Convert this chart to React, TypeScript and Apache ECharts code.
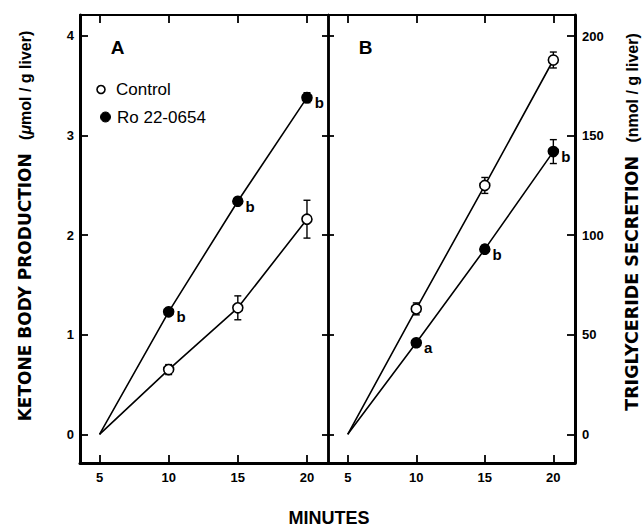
import React, { useEffect, useRef } from "react";
import * as echarts from "echarts";

// ---- data ----
const minutes = [5, 10, 15, 20];
const xTickValues = [5, 10, 15, 20];
const ketoneTicks = [0, 1, 2, 3, 4];
const tgTicks = [0, 50, 100, 150, 200];

const ketoneControl = [0, 0.65, 1.27, 2.16];
const ketoneControlErr = [0, 0.05, 0.12, 0.19];
const ketoneRo = [0, 1.23, 2.34, 3.38];
const ketoneRoErr = [0, 0.02, 0.02, 0.05];
const ketoneRoSig = ["", "b", "b", "b"];

const tgControl = [0, 63, 125, 188];
const tgControlErr = [0, 3, 4, 4];
const tgRo = [0, 46, 93, 142];
const tgRoErr = [0, 2, 2, 6];
const tgRoSig = ["", "a", "b", "b"];

const FONT = "'Liberation Sans', Arial, Helvetica, sans-serif";

function lineSeries(
  name: string,
  values: number[],
  filled: boolean,
  gi: number,
  sig?: string[]
) {
  return {
    name,
    type: "line",
    xAxisIndex: gi * 2,
    yAxisIndex: gi * 2,
    z: 3,
    data: minutes.map((m, i) => ({
      value: [m, values[i]],
      symbol: i === 0 ? "none" : "circle",
    })),
    symbolSize: 10,
    lineStyle: { color: "#000", width: 1.6 },
    itemStyle: {
      color: filled ? "#000" : "#fff",
      borderColor: "#000",
      borderWidth: 1.6,
    },
    label: sig
      ? {
          show: true,
          position: "right",
          distance: 2,
          offset: [0, 5],
          formatter: (p: any) => sig[p.dataIndex],
          fontFamily: FONT,
          fontWeight: "bold",
          fontSize: 15,
          color: "#000",
        }
      : { show: false },
  };
}

function errSeries(values: number[], errs: number[], gi: number) {
  return {
    type: "custom",
    xAxisIndex: gi * 2,
    yAxisIndex: gi * 2,
    z: 1,
    encode: { x: 0, y: 1 },
    data: minutes.map((m, i) => [m, values[i], errs[i]]),
    renderItem: (params: any, api: any) => {
      const x = api.value(0);
      const y = api.value(1);
      const e = api.value(2);
      if (!e) return null;
      const top = api.coord([x, y + e]);
      const bot = api.coord([x, y - e]);
      const hw = 3.5;
      const st = { stroke: "#000", lineWidth: 1.4 };
      return {
        type: "group",
        children: [
          { type: "line", shape: { x1: top[0], y1: top[1], x2: bot[0], y2: bot[1] }, style: st },
          { type: "line", shape: { x1: top[0] - hw, y1: top[1], x2: top[0] + hw, y2: top[1] }, style: st },
          { type: "line", shape: { x1: bot[0] - hw, y1: bot[1], x2: bot[0] + hw, y2: bot[1] }, style: st },
        ],
      };
    },
  };
}

function xAxes(gi: number, min: number, max: number) {
  return [
    {
      type: "value",
      gridIndex: gi,
      position: "bottom",
      min,
      max,
      splitLine: { show: false },
      axisLine: { show: true, onZero: false, lineStyle: { color: "#000", width: 3 } },
      axisTick: { show: true, inside: true, length: 8, customValues: xTickValues, lineStyle: { color: "#000", width: 1.8 } },
      axisLabel: {
        show: true,
        customValues: xTickValues,
        margin: 8,
        fontFamily: FONT,
        fontWeight: "bold",
        fontSize: 13,
        color: "#000",
      },
    },
    {
      type: "value",
      gridIndex: gi,
      position: "top",
      min,
      max,
      splitLine: { show: false },
      axisLine: { show: true, onZero: false, lineStyle: { color: "#000", width: 2 } },
      axisTick: { show: true, inside: true, length: 8, customValues: xTickValues, lineStyle: { color: "#000", width: 1.8 } },
      axisLabel: { show: false },
    },
  ];
}

function yAxis(
  gi: number,
  position: string,
  min: number,
  max: number,
  ticks: number[],
  showLabel: boolean,
  tickLen: number,
  lineWidth: number
) {
  return {
    type: "value",
    gridIndex: gi,
    position,
    min,
    max,
    splitLine: { show: false },
    axisLine: { show: true, onZero: false, lineStyle: { color: "#000", width: lineWidth } },
    axisTick: { show: true, inside: true, length: tickLen, customValues: ticks, lineStyle: { color: "#000", width: 1.8 } },
    axisLabel: {
      show: showLabel,
      customValues: ticks,
      margin: position === "left" ? 6 : 7,
      fontFamily: FONT,
      fontWeight: "bold",
      fontSize: 13,
      color: "#000",
    },
  };
}

export default function App() {
  const ref = useRef<HTMLDivElement>(null);
  useEffect(() => {
    if (!ref.current) return;
    const chart = echarts.init(ref.current, undefined, { renderer: "svg" });
    const kMin = -0.288;
    const kMax = 4.21;
    const tMin = -14.4;
    const tMax = 210.6;
    chart.setOption({
      animation: false,
      backgroundColor: "#fff",
      grid: [
        { left: 80, top: 15, width: 248, height: 448 },
        { left: 328, top: 15, width: 247, height: 448 },
      ],
      xAxis: [...xAxes(0, 3.59, 21.52), ...xAxes(1, 3.56, 21.58)],
      yAxis: [
        yAxis(0, "left", kMin, kMax, ketoneTicks, true, 8, 3),
        yAxis(0, "right", kMin, kMax, ketoneTicks, false, 6, 2.5),
        yAxis(1, "right", tMin, tMax, tgTicks, true, 8, 3),
        yAxis(1, "left", tMin, tMax, tgTicks, false, 6, 2.5),
      ],
      series: [
        errSeries(ketoneControl, ketoneControlErr, 0),
        errSeries(ketoneRo, ketoneRoErr, 0),
        lineSeries("Control", ketoneControl, false, 0),
        lineSeries("Ro 22-0654", ketoneRo, true, 0, ketoneRoSig),
        errSeries(tgControl, tgControlErr, 1),
        errSeries(tgRo, tgRoErr, 1),
        lineSeries("Control", tgControl, false, 1),
        lineSeries("Ro 22-0654", tgRo, true, 1, tgRoSig),
      ],
      graphic: [
        {
          type: "text",
          x: 117.5,
          y: 47,
          style: { text: "A", fontFamily: FONT, fontWeight: "bold", fontSize: 19, fill: "#000", align: "center", verticalAlign: "middle" },
        },
        {
          type: "text",
          x: 365.5,
          y: 47,
          style: { text: "B", fontFamily: FONT, fontWeight: "bold", fontSize: 19, fill: "#000", align: "center", verticalAlign: "middle" },
        },
        {
          type: "circle",
          shape: { cx: 101, cy: 89.5, r: 4 },
          style: { fill: "#fff", stroke: "#000", lineWidth: 1.6 },
        },
        {
          type: "text",
          x: 116,
          y: 89.5,
          style: { text: "Control", fontFamily: FONT, fontSize: 17, fill: "#000", align: "left", verticalAlign: "middle" },
        },
        {
          type: "circle",
          shape: { cx: 105.5, cy: 117, r: 5 },
          style: { fill: "#000", stroke: "#000", lineWidth: 1 },
        },
        {
          type: "text",
          x: 117,
          y: 117,
          style: { text: "Ro 22-0654", fontFamily: FONT, fontSize: 17, fill: "#000", align: "left", verticalAlign: "middle" },
        },
        {
          type: "text",
          x: 329,
          y: 518,
          style: { text: "MINUTES", fontFamily: FONT, fontWeight: "bold", fontSize: 18, fill: "#000", align: "center", verticalAlign: "middle" },
        },
        {
          type: "text",
          x: 25,
          y: 226,
          rotation: Math.PI / 2,
          style: {
            text: "{c|KETONE BODY PRODUCTION}{g|   }{p|(}{m|μ}{p|mol / g liver)}",
            align: "center",
            verticalAlign: "middle",
            fill: "#000",
            rich: {
              c: { fontFamily: "'DejaVu Sans'", fontWeight: "bold", fontSize: 17, fill: "#000" },
              g: { fontFamily: FONT, fontSize: 16 },
              p: { fontFamily: FONT, fontWeight: "bold", fontSize: 16, fill: "#000" },
              m: { fontFamily: FONT, fontWeight: "bold", fontStyle: "italic", fontSize: 16, fill: "#000" },
            },
          },
        },
        {
          type: "text",
          x: 632,
          y: 222,
          rotation: Math.PI / 2,
          style: {
            text: "{c|TRIGLYCERIDE SECRETION}{g|   }{p|(nmol / g liver)}",
            align: "center",
            verticalAlign: "middle",
            fill: "#000",
            rich: {
              c: { fontFamily: "'DejaVu Sans'", fontWeight: "bold", fontSize: 17.5, fill: "#000" },
              g: { fontFamily: FONT, fontSize: 16 },
              p: { fontFamily: FONT, fontWeight: "bold", fontSize: 16, fill: "#000" },
            },
          },
        },
      ],
    });
    return () => chart.dispose();
  }, []);
  return (
    <div
      ref={ref}
      style={{ position: "fixed", left: 0, top: 0, width: 644, height: 527, background: "#fff" }}
    />
  );
}
